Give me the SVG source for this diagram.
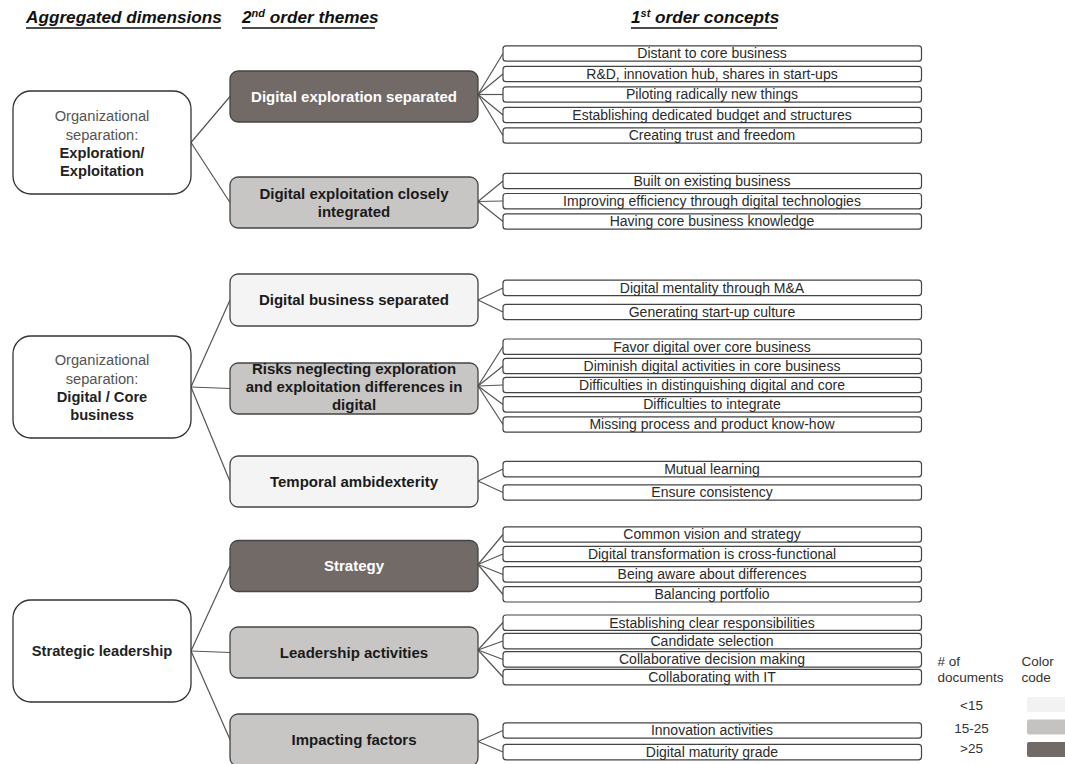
<svg xmlns="http://www.w3.org/2000/svg" width="1065" height="764" viewBox="0 0 1065 764">
<style>
text{font-family:"Liberation Sans",Arial,sans-serif}
.hdr{font-size:17.2px;font-weight:bold;font-style:italic;fill:#111}
.ul{stroke:#111;stroke-width:1.6}
.dim{fill:#fff;stroke:#333;stroke-width:1.3}
.dt{font-size:14.7px;text-anchor:middle;fill:#555}
.db{font-size:14.7px;text-anchor:middle;fill:#222;font-weight:bold}
.th{stroke:#444;stroke-width:1.3}
.dark{fill:#716a67}
.mid{fill:#c8c6c5}
.light{fill:#f4f4f4}
.tt{font-size:15px;font-weight:bold;text-anchor:middle;fill:#1a1a1a}
.tw{font-size:15px;font-weight:bold;text-anchor:middle;fill:#fff}
.c{fill:#fff;stroke:#444;stroke-width:1.2}
.ct{font-size:14px;text-anchor:middle;fill:#2a2a2a}
.conn line{stroke:#555;stroke-width:1.2}
.lg{font-size:13.5px;fill:#333}
</style>

<g id="headers">
<text class="hdr" x="26" y="23">Aggregated dimensions</text>
<line class="ul" x1="26" y1="28" x2="221" y2="28"/>
<text class="hdr" x="242" y="23">2<tspan font-size="11px" dy="-6">nd</tspan><tspan dy="6"> order themes</tspan></text>
<line class="ul" x1="242" y1="28" x2="375" y2="28"/>
<text class="hdr" x="631" y="23">1<tspan font-size="11px" dy="-6">st</tspan><tspan dy="6"> order concepts</tspan></text>
<line class="ul" x1="631" y1="28" x2="777" y2="28"/>
</g>

<g id="connectors" class="conn">
<line x1="191" y1="142.5" x2="230" y2="96.5"/>
<line x1="191" y1="142.5" x2="230" y2="202.5"/>
<line x1="191" y1="387" x2="230" y2="300"/>
<line x1="191" y1="387" x2="230" y2="388.5"/>
<line x1="191" y1="387" x2="230" y2="481.5"/>
<line x1="191" y1="651" x2="230" y2="566"/>
<line x1="191" y1="651" x2="230" y2="652.5"/>
<line x1="191" y1="651" x2="230" y2="739.5"/>
<line x1="478" y1="94.5" x2="503" y2="53.5"/>
<line x1="478" y1="94.5" x2="503" y2="74"/>
<line x1="478" y1="94.5" x2="503" y2="94.5"/>
<line x1="478" y1="94.5" x2="503" y2="115"/>
<line x1="478" y1="94.5" x2="503" y2="135.5"/>
<line x1="478" y1="201.5" x2="503" y2="181"/>
<line x1="478" y1="201.5" x2="503" y2="201"/>
<line x1="478" y1="201.5" x2="503" y2="221.5"/>
<line x1="478" y1="300" x2="503" y2="288"/>
<line x1="478" y1="300" x2="503" y2="312"/>
<line x1="478" y1="386" x2="503" y2="346.5"/>
<line x1="478" y1="386" x2="503" y2="366"/>
<line x1="478" y1="386" x2="503" y2="385"/>
<line x1="478" y1="386" x2="503" y2="404.5"/>
<line x1="478" y1="386" x2="503" y2="424.5"/>
<line x1="478" y1="481" x2="503" y2="469"/>
<line x1="478" y1="481" x2="503" y2="492.5"/>
<line x1="478" y1="564.5" x2="503" y2="534.5"/>
<line x1="478" y1="564.5" x2="503" y2="554"/>
<line x1="478" y1="564.5" x2="503" y2="574.5"/>
<line x1="478" y1="564.5" x2="503" y2="594.5"/>
<line x1="478" y1="650" x2="503" y2="622.5"/>
<line x1="478" y1="650" x2="503" y2="641"/>
<line x1="478" y1="650" x2="503" y2="659.5"/>
<line x1="478" y1="650" x2="503" y2="677"/>
<line x1="478" y1="741.5" x2="503" y2="730.5"/>
<line x1="478" y1="741.5" x2="503" y2="752"/>
</g>

<g id="dim-exploration">
<rect class="dim" x="13" y="91" width="178" height="103" rx="18"/>
<text class="dt" x="102" y="121">Organizational</text>
<text class="dt" x="102" y="139.5">separation:</text>
<text class="db" x="102" y="158">Exploration/</text>
<text class="db" x="102" y="176">Exploitation</text>
</g>
<g id="dim-digital-core">
<rect class="dim" x="13" y="336" width="178" height="102" rx="18"/>
<text class="dt" x="102" y="365">Organizational</text>
<text class="dt" x="102" y="383.5">separation:</text>
<text class="db" x="102" y="402">Digital / Core</text>
<text class="db" x="102" y="420">business</text>
</g>
<g id="dim-strategic">
<rect class="dim" x="13" y="600" width="178" height="102" rx="18"/>
<text class="db" x="102" y="656">Strategic leadership</text>
</g>

<g id="theme-exploration">
<rect class="th dark" x="230" y="71" width="248" height="51" rx="8"/>
<text class="tw" x="354" y="101.5">Digital exploration separated</text>
</g>
<g id="theme-exploitation">
<rect class="th mid" x="230" y="177" width="248" height="51" rx="8"/>
<text class="tt" x="354" y="199">Digital exploitation closely</text>
<text class="tt" x="354" y="216.5">integrated</text>
</g>
<g id="theme-digital-business">
<rect class="th light" x="230" y="274" width="248" height="52" rx="8"/>
<text class="tt" x="354" y="305">Digital business separated</text>
</g>
<g id="theme-risks">
<rect class="th mid" x="230" y="363" width="248" height="51" rx="8"/>
<text class="tt" x="354" y="374">Risks neglecting exploration</text>
<text class="tt" x="354" y="392">and exploitation differences in</text>
<text class="tt" x="354" y="410">digital</text>
</g>
<g id="theme-temporal">
<rect class="th light" x="230" y="456" width="248" height="51" rx="8"/>
<text class="tt" x="354" y="486.5">Temporal ambidexterity</text>
</g>
<g id="theme-strategy">
<rect class="th dark" x="230" y="540.5" width="248" height="51" rx="8"/>
<text class="tw" x="354" y="571">Strategy</text>
</g>
<g id="theme-leadership">
<rect class="th mid" x="230" y="627" width="248" height="51" rx="8"/>
<text class="tt" x="354" y="657.5">Leadership activities</text>
</g>
<g id="theme-impacting">
<rect class="th mid" x="230" y="714" width="248" height="52" rx="8"/>
<text class="tt" x="354" y="745">Impacting factors</text>
</g>

<g id="concepts-exploration">
<rect class="c" x="503" y="45.8" width="418.5" height="15.4" rx="3"/><text class="ct" x="712" y="58.3">Distant to core business</text>
<rect class="c" x="503" y="66.3" width="418.5" height="15.4" rx="3"/><text class="ct" x="712" y="78.8">R&amp;D, innovation hub, shares in start-ups</text>
<rect class="c" x="503" y="86.8" width="418.5" height="15.4" rx="3"/><text class="ct" x="712" y="99.3">Piloting radically new things</text>
<rect class="c" x="503" y="107.3" width="418.5" height="15.4" rx="3"/><text class="ct" x="712" y="119.8">Establishing dedicated budget and structures</text>
<rect class="c" x="503" y="127.8" width="418.5" height="15.4" rx="3"/><text class="ct" x="712" y="140.3">Creating trust and freedom</text>
</g>
<g id="concepts-exploitation">
<rect class="c" x="503" y="173.3" width="418.5" height="15.4" rx="3"/><text class="ct" x="712" y="185.8">Built on existing business</text>
<rect class="c" x="503" y="193.5" width="418.5" height="15.4" rx="3"/><text class="ct" x="712" y="206">Improving efficiency through digital technologies</text>
<rect class="c" x="503" y="213.8" width="418.5" height="15.4" rx="3"/><text class="ct" x="712" y="226.3">Having core business knowledge</text>
</g>
<g id="concepts-digital-business">
<rect class="c" x="503" y="280.2" width="418.5" height="15.4" rx="3"/><text class="ct" x="712" y="292.7">Digital mentality through M&amp;A</text>
<rect class="c" x="503" y="304.3" width="418.5" height="15.4" rx="3"/><text class="ct" x="712" y="316.8">Generating start-up culture</text>
</g>
<g id="concepts-risks">
<rect class="c" x="503" y="339" width="418.5" height="15.4" rx="3"/><text class="ct" x="712" y="351.5">Favor digital over core business</text>
<rect class="c" x="503" y="358.3" width="418.5" height="15.4" rx="3"/><text class="ct" x="712" y="370.8">Diminish digital activities in core business</text>
<rect class="c" x="503" y="377.3" width="418.5" height="15.4" rx="3"/><text class="ct" x="712" y="389.8">Difficulties in distinguishing digital and core</text>
<rect class="c" x="503" y="396.7" width="418.5" height="15.4" rx="3"/><text class="ct" x="712" y="409.2">Difficulties to integrate</text>
<rect class="c" x="503" y="416.8" width="418.5" height="15.4" rx="3"/><text class="ct" x="712" y="429.3">Missing process and product know-how</text>
</g>
<g id="concepts-temporal">
<rect class="c" x="503" y="461.4" width="418.5" height="15.4" rx="3"/><text class="ct" x="712" y="473.9">Mutual learning</text>
<rect class="c" x="503" y="484.8" width="418.5" height="15.4" rx="3"/><text class="ct" x="712" y="497.3">Ensure consistency</text>
</g>
<g id="concepts-strategy">
<rect class="c" x="503" y="526.8" width="418.5" height="15.4" rx="3"/><text class="ct" x="712" y="539.3">Common vision and strategy</text>
<rect class="c" x="503" y="546.3" width="418.5" height="15.4" rx="3"/><text class="ct" x="712" y="558.8">Digital transformation is cross-functional</text>
<rect class="c" x="503" y="566.7" width="418.5" height="15.4" rx="3"/><text class="ct" x="712" y="579.2">Being aware about differences</text>
<rect class="c" x="503" y="586.6" width="418.5" height="15.4" rx="3"/><text class="ct" x="712" y="599.1">Balancing portfolio</text>
</g>
<g id="concepts-leadership">
<rect class="c" x="503" y="615" width="418.5" height="15.4" rx="3"/><text class="ct" x="712" y="627.5">Establishing clear responsibilities</text>
<rect class="c" x="503" y="633.4" width="418.5" height="15.4" rx="3"/><text class="ct" x="712" y="645.9">Candidate selection</text>
<rect class="c" x="503" y="651.7" width="418.5" height="15.4" rx="3"/><text class="ct" x="712" y="664.2">Collaborative decision making</text>
<rect class="c" x="503" y="669.4" width="418.5" height="15.4" rx="3"/><text class="ct" x="712" y="681.9">Collaborating with IT</text>
</g>
<g id="concepts-impacting">
<rect class="c" x="503" y="722.8" width="418.5" height="15.4" rx="3"/><text class="ct" x="712" y="735.3">Innovation activities</text>
<rect class="c" x="503" y="744.4" width="418.5" height="15.4" rx="3"/><text class="ct" x="712" y="756.9">Digital maturity grade</text>
</g>

<g id="legend">
<text class="lg" x="937.5" y="666">#&#160;of</text>
<text class="lg" x="937.5" y="682">documents</text>
<text class="lg" x="1021.5" y="666">Color</text>
<text class="lg" x="1021.5" y="682">code</text>
<text class="lg" x="971.5" y="709.5" text-anchor="middle">&lt;15</text>
<text class="lg" x="971.5" y="732.5" text-anchor="middle">15-25</text>
<text class="lg" x="971.5" y="752.5" text-anchor="middle">&gt;25</text>
<rect x="1027" y="697" width="42" height="15" rx="2" fill="#f2f2f2"/>
<rect x="1027" y="719.5" width="42" height="15" rx="2" fill="#c5c3c2"/>
<rect x="1027" y="742" width="42" height="15" rx="2" fill="#716a67"/>
</g>
</svg>
